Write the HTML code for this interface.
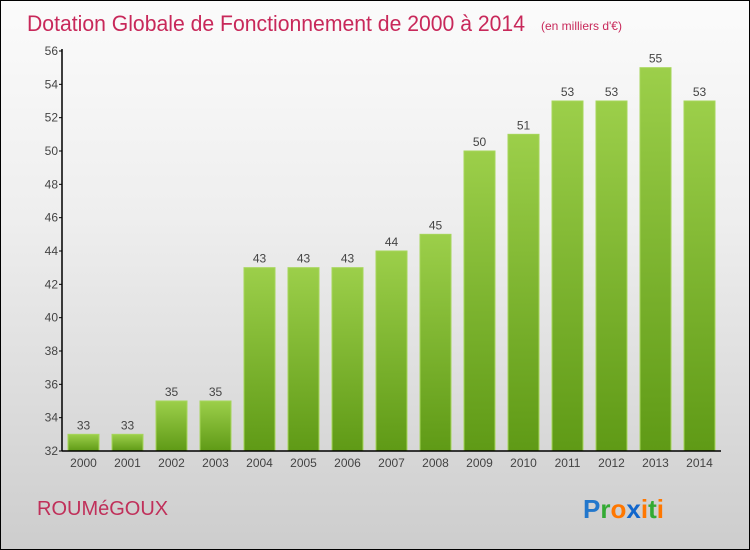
<!DOCTYPE html>
<html><head><meta charset="utf-8">
<style>
body{margin:0;}
#wrap{position:relative;width:750px;height:550px;box-sizing:border-box;border:1px solid #000;background:linear-gradient(#fbfbfb 0%,#eeeeee 40%,#cdcdcd 100%);font-family:"Liberation Sans",sans-serif;overflow:hidden;}
svg{position:absolute;left:0;top:0;}
</style></head><body>
<div id="wrap">
<svg id="chart" width="750" height="550">
<text x="26" y="30" font-size="22" fill="#c8285a" textLength="498" lengthAdjust="spacingAndGlyphs">Dotation Globale de Fonctionnement de 2000 à 2014</text>
<text x="540" y="29" font-size="12" fill="#c8285a">(en milliers d'€)</text>
<text x="36" y="514" font-size="20" fill="#c0305a">ROUMéGOUX</text>
<g font-size="26" font-weight="bold" font-family="'Liberation Sans',sans-serif">
<text x="582" y="517"><tspan fill="#2277cc">P</tspan><tspan fill="#33aa33">r</tspan><tspan fill="#ff7700">o</tspan><tspan fill="#1166cc">x</tspan><tspan fill="#ff7700">i</tspan><tspan fill="#33aa33">t</tspan><tspan fill="#ff7700">i</tspan></text>
</g>
<defs><linearGradient id="bg" x1="0" y1="0" x2="0" y2="1"><stop offset="0" stop-color="#9ccf4a"/><stop offset="1" stop-color="#5f9a16"/></linearGradient></defs>
<g id="bars"></g><g id="axes"></g>
</svg>
</div>
<script>
const years=["2000","2001","2002","2003","2004","2005","2006","2007","2008","2009","2010","2011","2012","2013","2014"];
const values=[33,33,35,35,43,43,43,44,45,50,51,53,53,55,53];
const yTicks=[32,34,36,38,40,42,44,46,48,50,52,54,56];
const NS="http://www.w3.org/2000/svg";
const yMin=32,yMax=56,plotTop=50,plotBottom=450,plotLeft=61,plotRight=720;
function yScale(v){return plotBottom-(v-yMin)/(yMax-yMin)*(plotBottom-plotTop);}
function xc(i){return 82.5+i*44;}
function mk(t,a,p){const e=document.createElementNS(NS,t);for(const k in a)e.setAttribute(k,a[k]);p.appendChild(e);return e;}
const barsG=document.getElementById('bars'),axesG=document.getElementById('axes');
values.forEach((v,i)=>{
 const r=mk('rect',{x:xc(i)-15.5,y:yScale(v),width:31,height:plotBottom-yScale(v),fill:'url(#bg)',stroke:'#a6d65a','stroke-width':1},barsG);
 
 
 const t=mk('text',{x:xc(i),y:yScale(v)-5,'font-size':12,fill:'#444','text-anchor':'middle'},barsG);
 t.textContent=v;
 
 
 const xl=mk('text',{x:xc(i),y:466,'font-size':12,fill:'#444','text-anchor':'middle'},axesG);
 xl.textContent=years[i];
 
 
});
const ya=mk('line',{x1:plotLeft,y1:plotTop-2,x2:plotLeft,y2:plotBottom,stroke:'#000','stroke-width':1.5},axesG);


const xa=mk('line',{x1:plotLeft,y1:plotBottom,x2:plotRight,y2:plotBottom,stroke:'#000','stroke-width':1.5},axesG);


yTicks.forEach(v=>{
 mk('line',{x1:plotLeft-3,y1:yScale(v),x2:plotLeft,y2:yScale(v),stroke:'#000'},axesG);
 const t=mk('text',{x:plotLeft-4,y:yScale(v)+4,'font-size':12,fill:'#444','text-anchor':'end'},axesG);
 t.textContent=v;
 
 
});
</script>
</body></html>
